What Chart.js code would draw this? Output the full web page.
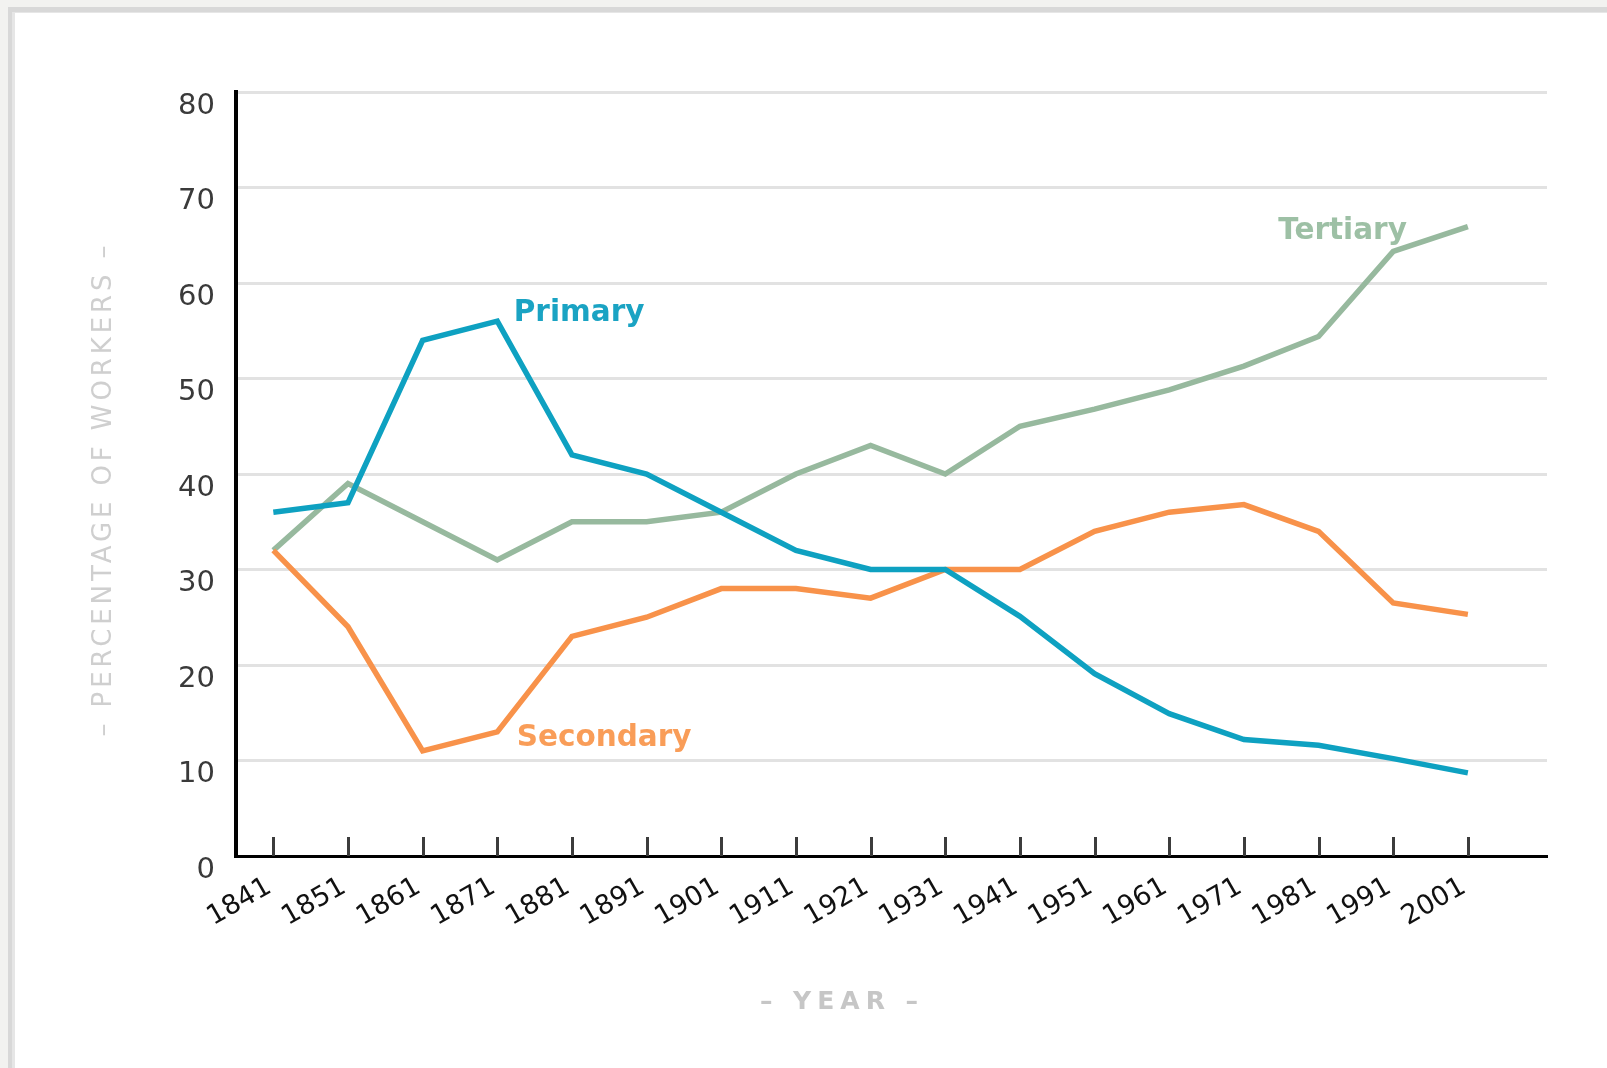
<!DOCTYPE html>
<html>
<head>
<meta charset="utf-8">
<script src="https://cdn.jsdelivr.net/npm/chart.js@4.4.1/dist/chart.umd.min.js"></script>
<style>
  html, body { margin: 0; padding: 0; width: 1607px; height: 1068px; overflow: hidden; background: #f2f2f0; }
  #frame { position: absolute; left: 8px; top: 7px; right: 0; bottom: 0; background: #ffffff;
           border-left: 4px solid #d8d8d8; border-top: 5px solid #d8d8d8; box-shadow: inset 3px 1px 0 #e6e6e6; }
  #wrap { position: absolute; left: 0; top: 0; width: 1607px; height: 1068px; }
</style>
</head>
<body>
<div id="frame"></div>
<div id="wrap"><canvas id="chart"></canvas></div>
<script>
// ---- data ----
const years = [1841, 1851, 1861, 1871, 1881, 1891, 1901, 1911, 1921, 1931, 1941, 1951, 1961, 1971, 1981, 1991, 2001];
const yearLabels = ['1841', '1851', '1861', '1871', '1881', '1891', '1901', '1911', '1921', '1931', '1941', '1951', '1961', '1971', '1981', '1991', '2001'];
const yTickValues = [0, 10, 20, 30, 40, 50, 60, 70, 80];
const yTickLabels = ['0', '10', '20', '30', '40', '50', '60', '70', '80'];
const primary   = [36, 37, 54, 56, 42, 40, 36, 32, 30, 30, 25.1, 19.1, 14.9, 12.2, 11.6, 10.2, 8.7];
const secondary = [32, 24, 11, 13, 23, 25, 28, 28, 27, 30, 30, 34, 36, 36.8, 34, 26.5, 25.3];
const tertiary  = [32, 39, 35, 31, 35, 35, 36, 40, 43, 40, 45, 46.8, 48.8, 51.3, 54.4, 63.3, 65.9];
const seriesNames = ['Primary', 'Secondary', 'Tertiary'];
const xTitle = '\u2013 YEAR \u2013';
const yTitle = '\u2013 PERCENTAGE OF WORKERS \u2013';

// ---- styling ----
const FONT = "'DejaVu Sans', Verdana, sans-serif";
const lineColors  = ['#0ea1c1', '#f8924a', '#97b99e'];
const labelColors = ['#1aa3c3', '#f99d58', '#9dc0a5'];
// label anchors in data space (year, value), text drawn left-aligned on baseline
const labelAnchors = [
  { x: 1873.2, y: 56 },
  { x: 1873.6, y: 11.5 },
  { x: 1975.6, y: 64.6 }
];

const toPoints = arr => arr.map((v, i) => ({ x: years[i], y: v }));

const decorations = {
  id: 'decorations',
  afterDatasetsDraw(chart) {
    const { ctx, scales: { x, y } } = chart;
    ctx.save();
    ctx.font = "bold 29.5px " + FONT;
    ctx.textAlign = 'left';
    ctx.textBaseline = 'alphabetic';
    seriesNames.forEach((name, i) => {
      ctx.fillStyle = labelColors[i];
      ctx.fillText(name, x.getPixelForValue(labelAnchors[i].x), y.getPixelForValue(labelAnchors[i].y));
    });
    ctx.restore();
  },
  afterDraw(chart) {
    const { ctx, chartArea, scales: { x } } = chart;
    ctx.save();
    // inward tick marks on the x axis
    ctx.strokeStyle = '#3c3c3c';
    ctx.lineWidth = 3;
    years.forEach(yr => {
      const px = Math.round(x.getPixelForValue(yr)) + 0.5;
      ctx.beginPath();
      ctx.moveTo(px, chartArea.bottom);
      ctx.lineTo(px, chartArea.bottom - 19);
      ctx.stroke();
    });
    // axis titles
    ctx.fillStyle = '#c6c6c6';
    ctx.textAlign = 'center';
    ctx.textBaseline = 'middle';
    ctx.font = "bold 25px " + FONT;
    ctx.letterSpacing = '6px';
    ctx.fillText(xTitle, 842, 1002);
    ctx.font = "26px " + FONT;
    ctx.letterSpacing = '3.9px';
    ctx.fillStyle = '#cfcfcf';
    ctx.translate(104, 489);
    ctx.rotate(-Math.PI / 2);
    ctx.fillText(yTitle, 0, 0);
    ctx.restore();
  }
};

new Chart(document.getElementById('chart'), {
  type: 'line',
  data: {
    datasets: [
      { label: seriesNames[0], data: toPoints(primary),   borderColor: lineColors[0] },
      { label: seriesNames[1], data: toPoints(secondary), borderColor: lineColors[1] },
      { label: seriesNames[2], data: toPoints(tertiary),  borderColor: lineColors[2] }
    ]
  },
  options: {
    responsive: true,
    maintainAspectRatio: false,
    animation: false,
    layout: { padding: { left: 0, top: 92, right: 60, bottom: 0 } },
    plugins: { legend: { display: false }, tooltip: { enabled: false } },
    elements: {
      point: { radius: 0, hoverRadius: 0 },
      line: { tension: 0, borderWidth: 5.5, fill: false, borderJoinStyle: 'miter', borderCapStyle: 'butt' }
    },
    scales: {
      x: {
        type: 'linear',
        min: 1836,
        max: 2011.6,
        afterBuildTicks: s => { s.ticks = years.map(v => ({ value: v })); },
        afterFit: s => { s.height = 212; },
        grid: { display: false, drawTicks: false },
        border: { display: true, color: '#000000', width: 3 },
        ticks: {
          autoSkip: false, minRotation: 30, maxRotation: 30, padding: 15, labelOffset: -4,
          color: '#111111', font: { family: FONT, size: 27 },
          callback: v => yearLabels[years.indexOf(v)]
        }
      },
      y: {
        min: 0,
        max: 80,
        afterBuildTicks: s => { s.ticks = yTickValues.map(v => ({ value: v })); },
        afterFit: s => { s.width = 236; },
        grid: {
          drawTicks: false, lineWidth: 3,
          color: c => (c.tick && c.tick.value === 0) ? 'rgba(0,0,0,0)' : '#e2e2e2'
        },
        border: { display: true, color: '#000000', width: 4 },
        ticks: {
          padding: 21, labelOffset: 14, color: '#3a3a3a', font: { family: FONT, size: 29 },
          callback: v => yTickLabels[yTickValues.indexOf(v)]
        }
      }
    }
  },
  plugins: [decorations]
});
</script>
</body>
</html>
